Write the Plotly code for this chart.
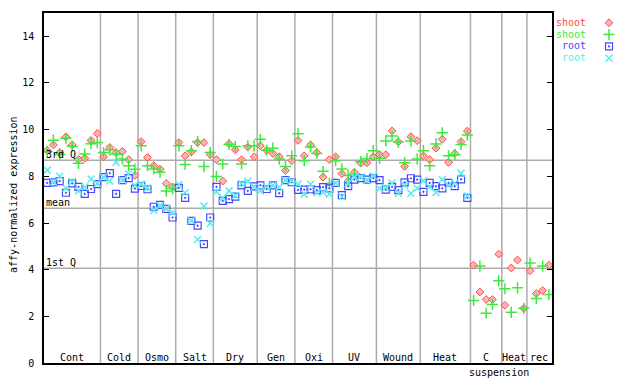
import plotly.graph_objects as go

# ---- data ----
groups = ["Cont", "Cold", "Osmo", "Salt", "Dry", "Gen", "Oxi", "UV", "Wound", "Heat", "C", "Heat", "rec"]
group_sizes = [9, 6, 6, 6, 7, 6, 6, 7, 7, 8, 5, 4, 4]

shoot_a = [9.11, 9.35, 9.02, 9.69, 9.35, 8.73, 8.78, 9.54, 9.84,
           8.84, 9.24, 9.02, 9.07, 8.72, 8.04,
           9.49, 8.81, 8.46, 8.31, 7.70, 7.55,
           9.45, 8.88, 9.05, 9.45, 9.45, 8.93,
           8.72, 7.80, 9.40, 9.14, 8.72, 9.26, 8.84,
           9.31, 9.12, 8.98, 8.84, 8.25, 8.67,
           9.54, 8.88, 9.35, 9.02, 7.97, 8.72,
           8.84, 8.12, 7.80, 8.18, 8.57, 8.58, 8.84,
           8.93, 8.93, 9.95, 9.48, 8.43, 9.70, 9.53,
           8.88, 8.72, 9.21, 9.59, 8.60, 8.98, 9.49, 9.94,
           4.20, 3.05, 2.73, 2.73, 4.67,
           2.48, 4.08, 4.42, 2.35,
           3.96, 2.98, 3.11, 4.20]

shoot_b = [9.07, 9.55, 8.94, 9.63, 9.29, 8.56, 8.96, 9.40, 9.45,
           9.02, 9.14, 8.95, 8.74, 8.46, 8.31,
           9.31, 8.46, 8.32, 8.18, 7.37, 7.48,
           9.31, 8.51, 9.10, 9.49, 8.42, 9.02,
           8.00, 8.53, 9.37, 9.28, 8.53, 9.31, 9.31,
           9.59, 9.12, 9.21, 8.74, 8.42, 8.88,
           9.83, 8.67, 9.26, 8.98, 8.22, 7.70,
           8.67, 8.32, 8.04, 8.10, 8.63, 8.76, 9.10,
           8.78, 9.52, 9.73, 9.47, 8.58, 9.52, 8.74,
           9.10, 8.46, 9.39, 9.87, 8.88, 8.93, 9.37, 9.77,
           2.69, 4.16, 2.14, 2.52, 3.53,
           3.19, 2.18, 3.23, 2.35,
           4.29, 2.77, 4.16, 2.94]

root_a = [7.72, 7.74, 7.80, 7.30, 7.70, 7.55, 7.25, 7.46, 7.67,
          7.97, 8.14, 7.25, 7.84, 7.93, 7.48,
          7.59, 7.45, 6.70, 6.78, 6.61, 6.24,
          7.51, 7.08, 6.10, 5.89, 5.10, 6.24,
          7.55, 6.95, 7.03, 7.13, 7.62, 7.38, 7.57,
          7.62, 7.46, 7.62, 7.28, 7.84, 7.75,
          7.42, 7.43, 7.45, 7.41, 7.54, 7.49,
          7.72, 7.20, 7.58, 7.86, 7.93, 7.86, 7.93,
          7.84, 7.43, 7.55, 7.41, 7.74, 7.92, 7.86,
          7.34, 7.72, 7.58, 7.49, 7.72, 7.58, 7.87, 7.08,
          None, None, None, None, None,
          None, None, None, None,
          None, None, None, None]

root_b = [8.27, 7.76, 8.01, 7.49, 7.78, 7.38, 7.55, 7.89, 7.70,
          7.97, 7.80, 8.60, 7.84, 8.10, 7.62,
          7.67, 7.51, 6.54, 6.75, 6.62, 6.45,
          7.65, 7.30, 6.10, 5.30, 6.73, 5.98,
          7.34, 7.08, 7.38, 7.17, 7.69, 7.79, 7.55,
          7.38, 7.55, 7.62, 7.55, 7.83, 7.80,
          7.67, 7.24, 7.66, 7.30, 7.32, 7.24,
          7.72, 7.13, 7.70, 7.97, 7.97, 7.84, 8.02,
          7.48, 7.52, 7.72, 7.28, 7.62, 7.28, 7.49,
          7.81, 7.55, 7.31, 7.87, 7.62, 7.72, 8.14, 7.16,
          None, None, None, None, None,
          None, None, None, None,
          None, None, None, None]

stat_names = ["3rd Q", "mean", "1st Q"]
stat_values = [8.69, 6.64, 4.07]

series_names = ["shoot", "shoot", "root", "root"]

# ---- styles ----
# the page body has an 8px default margin, so the figure is drawn 8px in from the
# window's top-left corner; the figure is sized to fill the rest of the window.
FONT = "DejaVu Sans Mono"
OFF = 8
W, H = 640 - OFF, 384 - OFF
X0, X1, YT, YB = 44 - OFF, 552 - OFF, 13 - OFF, 369 - OFF
colors = ["#ff4a4a", "#3ee83e", "#4646ff", "#55eeee"]
markers = [
    dict(symbol="diamond", size=6, color="#ffb4b4", line=dict(color=colors[0], width=1)),
    dict(symbol="cross-thin-open", size=8, color=colors[1], line=dict(color=colors[1], width=1.5)),
    dict(symbol="square-open-dot", size=7, color=colors[2], line=dict(color=colors[2], width=1.2)),
    dict(symbol="x-thin-open", size=7, color=colors[3], line=dict(color=colors[3], width=1.5)),
]

n = len(shoot_a)
xs = list(range(n))

fig = go.Figure()
for vals, mk, name in zip([shoot_a, shoot_b, root_a, root_b], markers, series_names):
    fig.add_trace(go.Scatter(x=xs, y=vals, mode="markers", marker=mk, name=name,
                             showlegend=False, xaxis="x", yaxis="y"))

# group boundaries and labels
shapes = []
annotations = []
start = 0
bounds = []
for g, c in zip(groups, group_sizes):
    center = start + (c - 1) / 2
    annotations.append(dict(x=center, y=1 - (363 - OFF) / H, xref="x", yref="paper", text=g,
                            showarrow=False, font=dict(family=FONT, size=10, color="black"),
                            xanchor="center", yanchor="middle"))
    start += c
    bounds.append(start - 0.5)
for b in bounds[:-1]:
    shapes.append(dict(type="line", xref="x", yref="y", x0=b, x1=b, y0=0, y1=15,
                       line=dict(color="#ababab", width=1.5), layer="below"))
for nm, v in zip(stat_names, stat_values):
    shapes.append(dict(type="line", xref="x", yref="y", x0=-0.5, x1=n - 0.5, y0=v, y1=v,
                       line=dict(color="#ababab", width=1.5), layer="below"))
    annotations.append(dict(x=-0.5, y=v, xref="x", yref="y", text=nm, showarrow=False,
                            xanchor="left", yanchor="bottom", yshift=-2, xshift=0,
                            font=dict(family=FONT, size=10, color="black")))

susp_start = sum(group_sizes[:10])
annotations.append(dict(x=susp_start + 4, y=1 - (378 - OFF) / H, xref="x", yref="paper",
                        text="suspension", showarrow=False, xanchor="center", yanchor="middle",
                        font=dict(family=FONT, size=10, color="black")))

annotations.append(dict(x=(14 - OFF) / W, y=1 - (198 - OFF) / H, xref="paper", yref="paper",
                        text="affy-normalized expression", textangle=-90, showarrow=False,
                        xanchor="center", yanchor="middle", borderpad=0,
                        font=dict(family=FONT, size=10, color="black")))

# legend (text right-aligned, marker to the right)
leg_y = [22, 34, 46, 58]
for i, (nm, col) in enumerate(zip(series_names, colors)):
    annotations.append(dict(x=(587 - OFF) / W, y=1 - (leg_y[i] - OFF) / H, xref="paper",
                            yref="paper", text=nm, showarrow=False, xanchor="right",
                            yanchor="middle", height=10, borderpad=0,
                            font=dict(family=FONT, size=10, color=col)))
    fig.add_trace(go.Scatter(x=[609 - OFF], y=[leg_y[i] + 1 - OFF], mode="markers",
                             marker=markers[i], showlegend=False, xaxis="x2", yaxis="y2",
                             hoverinfo="skip"))

fig.update_layout(
    width=W, height=H, margin=dict(l=0, r=0, t=0, b=0),
    paper_bgcolor="white", plot_bgcolor="rgba(0,0,0,0)",
    showlegend=False,
    xaxis=dict(domain=[X0 / W, X1 / W], range=[-0.5, n - 0.5], showticklabels=False,
               ticks="", showgrid=False, zeroline=False, showline=True, mirror=True,
               linecolor="black", linewidth=1.5, anchor="y"),
    yaxis=dict(domain=[1 - YB / H, 1 - YT / H], range=[0, 15], dtick=2, tick0=0,
               ticks="inside", ticklen=5, tickcolor="black", showgrid=False, zeroline=False,
               showline=True, mirror="ticks", linecolor="black", linewidth=1.5,
               ticklabelstandoff=6,
               tickfont=dict(family=FONT, size=10, color="black"), anchor="x"),
    xaxis2=dict(domain=[0, 1], range=[0, W], visible=False, anchor="y2"),
    yaxis2=dict(domain=[0, 1], range=[H, 0], visible=False, anchor="x2"),
    shapes=shapes, annotations=annotations,
)

fig.write_html("out.html")
